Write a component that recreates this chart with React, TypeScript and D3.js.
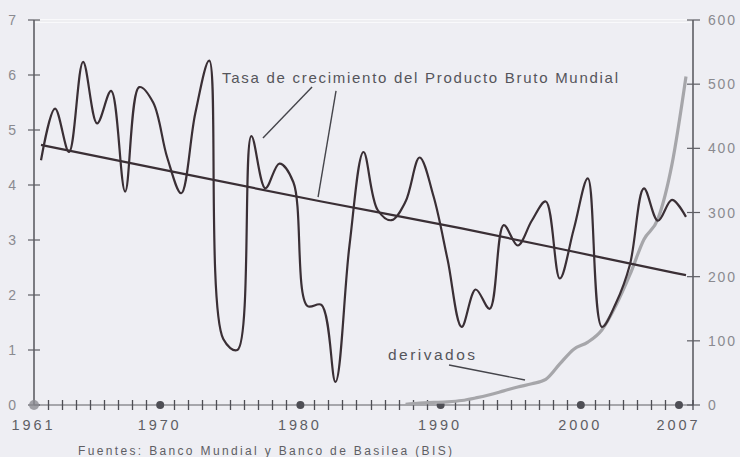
import React from "react";
import * as d3 from "d3";

// ---- Data ----
const years = [
  1961, 1962, 1963, 1964, 1965, 1966, 1967, 1968, 1969, 1970,
  1971, 1972, 1973, 1974, 1975, 1976, 1977, 1978, 1979, 1980,
  1981, 1982, 1983, 1984, 1985, 1986, 1987, 1988, 1989, 1990,
  1991, 1992, 1993, 1994, 1995, 1996, 1997, 1998, 1999, 2000,
  2001, 2002, 2003, 2004, 2005, 2006, 2007,
];
const growth = [
  4.45, 5.39, 4.6, 6.24, 5.12, 5.71, 3.88, 5.78, 5.5, 4.5,
  3.85, 5.3, 6.26, 1.2, 1.0, 4.89, 3.94, 4.39, 4.05, 1.8,
  1.82, 0.42, 2.9, 4.6, 3.55, 3.36, 3.7, 4.5, 3.79, 2.64,
  1.42, 2.1, 1.75, 3.27, 2.9, 3.35, 3.7, 2.3, 3.2, 4.12,
  1.42, 1.85, 2.55, 3.94, 3.35, 3.73, 3.42,
];
const trendYears = [1961, 1971, 1981, 1991, 2001, 2007];
const trendValues = [4.73, 4.21, 3.7, 3.21, 2.68, 2.36];

const derivYears = [
  1987, 1988, 1989, 1990, 1991, 1992, 1993, 1994, 1995, 1996, 1997,
  1998, 1999, 2000, 2001, 2002, 2003, 2004, 2005, 2006, 2007,
];
const derivValues = [
  1, 3, 4, 5, 7, 11, 16, 22, 28, 33, 40,
  64, 87, 98, 117, 155, 203, 258, 290, 375, 512,
];

const leftTicks = [0, 1, 2, 3, 4, 5, 6, 7];
const rightTicks = [0, 100, 200, 300, 400, 500, 600];
const xLabelYears = [1961, 1970, 1980, 1990, 2000, 2007];
const minorYears = years.filter((y) => !xLabelYears.includes(y));

const titleGrowth = "Tasa de crecimiento del Producto Bruto Mundial";
const titleDeriv = "derivados";
const source = "Fuentes: Banco Mundial y Banco de Basilea (BIS)";

export default function App() {
  const W = 740;
  const H = 457;
  const x = d3.scaleLinear().domain([1961, 2008]).range([34, 693]);
  const yL = d3.scaleLinear().domain([0, 7]).range([405, 20]);
  const yR = d3.scaleLinear().domain([0, 600]).range([405, 20]);
  const mid = (yr: number) => x(yr + 0.5);

  const growthLine = d3
    .line<number>()
    .x((_, i) => mid(years[i]))
    .y((d) => yL(d))
    .curve(d3.curveCatmullRom.alpha(0.5));
  const trendLine = d3
    .line<number>()
    .x((_, i) => mid(trendYears[i]))
    .y((d) => yL(d))
    .curve(d3.curveMonotoneX);
  const derivLine = d3
    .line<number>()
    .x((_, i) => mid(derivYears[i]))
    .y((d) => yR(d))
    .curve(d3.curveMonotoneX);

  const axisCol = "#5e5e64";
  const lineCol = "#3a2f35";
  const textCol = "#55555b";
  const font = "Liberation Sans, Arial, sans-serif";

  return (
    <div style={{ position: "absolute", left: 0, top: 0, width: W, height: H }}>
      <svg width={W} height={H} style={{ display: "block", background: "#eeeef3" }}>
        {/* faint top border */}
        <line x1={x(1961)} x2={x(2008)} y1={21} y2={21} stroke="#f9f9fb" strokeWidth={4} />
        <line x1={x(1961)} x2={x(2008)} y1={21} y2={21} stroke="#d6d6dc" strokeWidth={1} opacity={0.6} />

        {/* left axis */}
        <line x1={x(1961)} x2={x(1961)} y1={yL(7)} y2={yL(0)} stroke={axisCol} strokeWidth={1.6} />
        {leftTicks.map((t) => (
          <g key={"l" + t}>
            <line x1={x(1961) - 6} x2={x(1961) + 6} y1={yL(t)} y2={yL(t)} stroke={axisCol} strokeWidth={1.2} />
            <text x={16} y={yL(t) + 5} textAnchor="end" fontFamily={font} fontSize={14} fill="#8a8a90">
              {t}
            </text>
          </g>
        ))}

        {/* right axis */}
        <line x1={x(2008)} x2={x(2008)} y1={yR(600)} y2={yR(0)} stroke={axisCol} strokeWidth={1.6} />
        {rightTicks.map((t) => (
          <g key={"r" + t}>
            <line x1={x(2008) - 6} x2={x(2008) + 7} y1={yR(t)} y2={yR(t)} stroke={axisCol} strokeWidth={1.2} />
            <text x={708} y={yR(t) + 5} textAnchor="start" fontFamily={font} fontSize={14} letterSpacing={1.8} fill="#8a8a90">
              {t}
            </text>
          </g>
        ))}

        {/* x axis */}
        <line x1={x(1961)} x2={x(2008)} y1={yL(0)} y2={yL(0)} stroke={axisCol} strokeWidth={1.2} />
        {minorYears.map((yr) => (
          <line
            key={"m" + yr}
            x1={Math.round(x(yr)) + 0.5}
            x2={Math.round(x(yr)) + 0.5}
            y1={yL(0) - 5}
            y2={yL(0) + 5}
            stroke="#4e4e55"
            strokeWidth={1.3}
          />
        ))}
        <line x1={x(2008)} x2={x(2008)} y1={yL(0) - 5} y2={yL(0) + 5} stroke="#4e4e55" strokeWidth={1.3} />
        {xLabelYears.map((yr) => (
          <g key={"x" + yr}>
            <circle
              cx={x(yr)}
              cy={yL(0)}
              r={yr === 1961 ? 5 : 4}
              fill={yr === 1961 ? "#8c8c92" : "#4e4e55"}
              opacity={yr === 1961 ? 0.8 : 1}
            />
            <text
              x={x(yr) - 2}
              y={430}
              textAnchor="middle"
              fontFamily={font}
              fontSize={14.5}
              textLength={41}
              lengthAdjust="spacing"
              fill="#5e5e64"
            >
              {yr}
            </text>
          </g>
        ))}

        {/* derivados series */}
        <path d={derivLine(derivValues) || ""} fill="none" stroke="#a6a6aa" strokeWidth={3.2} strokeLinejoin="round" />

        {/* trend line */}
        <path d={trendLine(trendValues) || ""} fill="none" stroke={lineCol} strokeWidth={2.2} />

        {/* growth series */}
        <path d={growthLine(growth) || ""} fill="none" stroke={lineCol} strokeWidth={2.2} strokeLinejoin="round" />

        {/* annotations */}
        <text x={222} y={82.5} fontFamily={font} fontSize={15} textLength={396} lengthAdjust="spacing" fill={textCol}>
          {titleGrowth}
        </text>
        <line x1={x(1980.83)} y1={yL(5.78)} x2={x(1977.33)} y2={yL(4.855)} stroke="#45454b" strokeWidth={1.4} />
        <line x1={x(1982.54)} y1={yL(5.71)} x2={x(1981.26)} y2={yL(3.78)} stroke="#45454b" strokeWidth={1.4} />

        <text x={388} y={360} fontFamily={font} fontSize={15.5} textLength={87} lengthAdjust="spacing" fill={textCol}>
          {titleDeriv}
        </text>
        <line x1={x(1990.6)} y1={yL(0.727)} x2={x(1996.02)} y2={yL(0.455)} stroke="#45454b" strokeWidth={1.4} />

        {/* source */}
        <text x={78} y={455} fontFamily={font} fontSize={12} textLength={374} lengthAdjust="spacing" fill="#5e5e64">
          {source}
        </text>
      </svg>
    </div>
  );
}
